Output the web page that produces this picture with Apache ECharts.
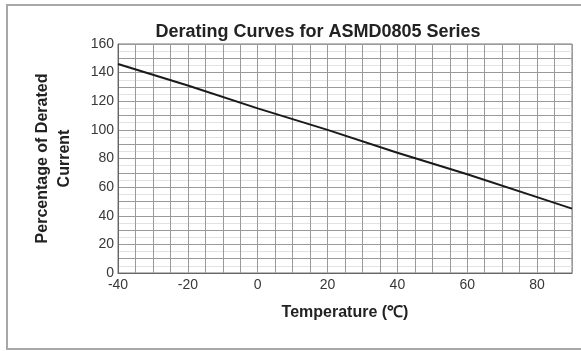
<!DOCTYPE html>
<html>
<head>
<meta charset="utf-8">
<script src="https://cdn.jsdelivr.net/npm/echarts@6/dist/echarts.min.js"></script>
<style>
  html, body { margin: 0; padding: 0; background: #fff; }
  #chart { width: 581px; height: 351px; }
</style>
</head>
<body>
<div id="chart"></div>
<script>
// temperature (°C) and derated current (%)
const temps = [-40, -20, 0, 20, 40, 60, 80, 90];
const current = [146, 131, 115, 100, 84, 69, 53, 45];
const xTicks = [-40, -20, 0, 20, 40, 60, 80];
const yTicks = [0, 20, 40, 60, 80, 100, 120, 140, 160];

const chart = echarts.init(document.getElementById('chart'));
const font = 'Liberation Sans, Arial, sans-serif';

chart.setOption({
  animation: false,
  title: {
    text: 'Derating Curves for ASMD0805 Series',
    left: 313,
    textAlign: 'center',
    top: 18,
    textStyle: { fontFamily: font, fontSize: 18, fontWeight: 'bold', color: '#222' }
  },
  graphic: [
    {
      type: 'rect',
      shape: { x: 7, y: 5, width: 590, height: 344 },
      style: { fill: 'none', stroke: '#a8a8a8', lineWidth: 2 }
    }
  ],
  grid: { left: 118, top: 44, right: 9, bottom: 78, show: true, borderColor: '#777', borderWidth: 1 },
  xAxis: {
    type: 'value',
    min: -40,
    max: 90,
    interval: 5,
    name: 'Temperature (℃)',
    nameLocation: 'middle',
    nameGap: 32,
    nameTextStyle: { fontFamily: font, fontSize: 16, fontWeight: 'bold', color: '#222' },
    axisLine: { lineStyle: { color: '#666' } },
    axisTick: { show: false },
    axisLabel: {
      fontFamily: font, fontSize: 14, color: '#383838', margin: 5, showMaxLabel: false,
      formatter: v => xTicks.includes(v) ? String(v) : ''
    },
    splitLine: { lineStyle: { color: '#9a9a9a', width: 1 } }
  },
  yAxis: {
    type: 'value',
    min: 0,
    max: 160,
    interval: 10,
    name: 'Percentage of Derated\nCurrent',
    nameLocation: 'middle',
    nameGap: 42,
    nameTextStyle: { fontFamily: font, fontSize: 16, fontWeight: 'bold', color: '#222', lineHeight: 22 },
    axisLine: { onZero: false, lineStyle: { color: '#666' } },
    axisTick: { show: false },
    axisLabel: {
      fontFamily: font, fontSize: 14, color: '#383838', margin: 4,
      formatter: v => yTicks.includes(v) ? String(v) : ''
    },
    splitLine: { lineStyle: { color: '#9a9a9a', width: 1 } },
    minorTick: { show: false, splitNumber: 2 },
    minorSplitLine: { show: true, lineStyle: { color: '#e2e2e2' } }
  },
  series: [
    {
      type: 'line',
      data: temps.map((t, i) => [t, current[i]]),
      showSymbol: false,
      lineStyle: { color: '#1a1a1a', width: 2 }
    }
  ]
});
</script>
</body>
</html>
